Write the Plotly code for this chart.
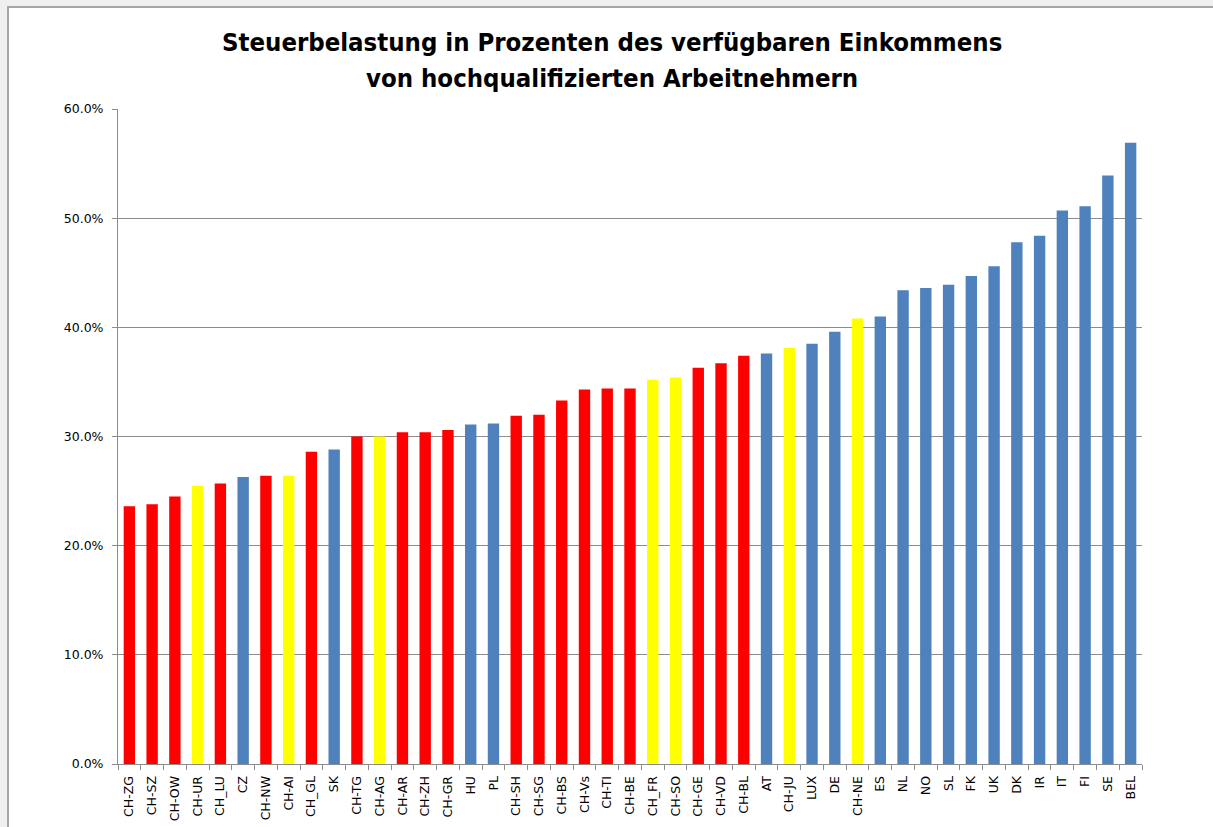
import plotly.graph_objects as go

categories = ["CH-ZG", "CH-SZ", "CH-OW", "CH-UR", "CH_LU", "CZ", "CH-NW", "CH-AI", "CH_GL", "SK",
              "CH-TG", "CH-AG", "CH-AR", "CH-ZH", "CH-GR", "HU", "PL", "CH-SH", "CH-SG", "CH-BS",
              "CH-Vs", "CH-TI", "CH-BE", "CH_FR", "CH-SO", "CH-GE", "CH-VD", "CH-BL", "AT", "CH-JU",
              "LUX", "DE", "CH-NE", "ES", "NL", "NO", "SL", "FK", "UK", "DK",
              "IR", "IT", "FI", "SE", "BEL"]
values = [23.6, 23.8, 24.5, 25.5, 25.7, 26.3, 26.4, 26.4, 28.6, 28.8,
          30.0, 30.0, 30.4, 30.4, 30.6, 31.1, 31.2, 31.9, 32.0, 33.3,
          34.3, 34.4, 34.4, 35.2, 35.4, 36.3, 36.7, 37.4, 37.6, 38.1,
          38.5, 39.6, 40.8, 41.0, 43.4, 43.6, 43.9, 44.7, 45.6, 47.8,
          48.4, 50.7, 51.1, 53.9, 56.9]
# group: "ch" red, "chy" yellow, "eu" blue
groups = ["ch", "ch", "ch", "chy", "ch", "eu", "ch", "chy", "ch", "eu",
          "ch", "chy", "ch", "ch", "ch", "eu", "eu", "ch", "ch", "ch",
          "ch", "ch", "ch", "chy", "chy", "ch", "ch", "ch", "eu", "chy",
          "eu", "eu", "chy", "eu", "eu", "eu", "eu", "eu", "eu", "eu",
          "eu", "eu", "eu", "eu", "eu"]
group_colors = {"ch": "#FF0000", "chy": "#FFFF00", "eu": "#4F81BD"}

title_lines = ["Steuerbelastung in Prozenten des verfügbaren Einkommens",
               "von hochqualifizierten Arbeitnehmern"]

W, H = 1213, 827
L, R, T, B = 118, 1142, 109, 764


def px(x):
    return (x - L) / (R - L)


def py(y):
    return (B - y) / (B - T)


fig = go.Figure(go.Bar(
    x=categories,
    y=[v / 100 for v in values],
    marker=dict(color=[group_colors[g] for g in groups], line=dict(width=0)),
    width=0.5,
))

fig.update_layout(
    width=W, height=H,
    margin=dict(l=L, r=W - R, t=T, b=H - B, autoexpand=False),
    paper_bgcolor="white", plot_bgcolor="white",
    showlegend=False,
    font=dict(family="DejaVu Sans", size=12.5, color="#000000"),
    bargap=0.5,
)

fig.update_yaxes(
    range=[0, 0.6], dtick=0.1, tickformat=".1%",
    showgrid=True, gridcolor="#8c8c8c", gridwidth=1,
    showline=True, linecolor="#8c8c8c", linewidth=1,
    ticks="outside", ticklen=5, tickcolor="#8c8c8c", ticklabelstandoff=6,
    tickfont=dict(family="DejaVu Sans", size=12.5, color="#000000"),
    zeroline=False, fixedrange=True,
)
fig.update_xaxes(
    type="category", tickangle=-90,
    showline=True, linecolor="#8c8c8c", linewidth=1,
    ticks="outside", ticklen=5, tickcolor="#8c8c8c", tickson="boundaries",
    ticklabelstandoff=6,
    tickfont=dict(family="DejaVu Sans", size=12.5, color="#000000"),
    showgrid=False, fixedrange=True,
)

# title
for i, line in enumerate(title_lines):
    fig.add_annotation(
        text="<b>" + line + "</b>", xref="paper", yref="paper",
        x=px(612), y=py(42 + 36 * i), showarrow=False,
        xanchor="center", yanchor="middle",
        font=dict(family="DejaVu Sans Condensed", size=25.5, color="#000000"),
    )

# outer frame
fig.add_shape(type="rect", xref="paper", yref="paper",
              x0=px(0), x1=px(W), y0=py(6), y1=py(0),
              fillcolor="#f0f0f0", line=dict(width=0), layer="below")
fig.add_shape(type="rect", xref="paper", yref="paper",
              x0=px(0), x1=px(7), y0=py(H), y1=py(0),
              fillcolor="#f0f0f0", line=dict(width=0), layer="below")
fig.add_shape(type="line", xref="paper", yref="paper",
              x0=px(7), x1=px(W), y0=py(7), y1=py(7),
              line=dict(color="#a6a6a6", width=2))
fig.add_shape(type="line", xref="paper", yref="paper",
              x0=px(8), x1=px(8), y0=py(7), y1=py(H),
              line=dict(color="#a6a6a6", width=2))

fig.write_html("out.html", config={"displayModeBar": False},
               post_script="document.body.style.margin='0';document.body.style.overflow='hidden';")
